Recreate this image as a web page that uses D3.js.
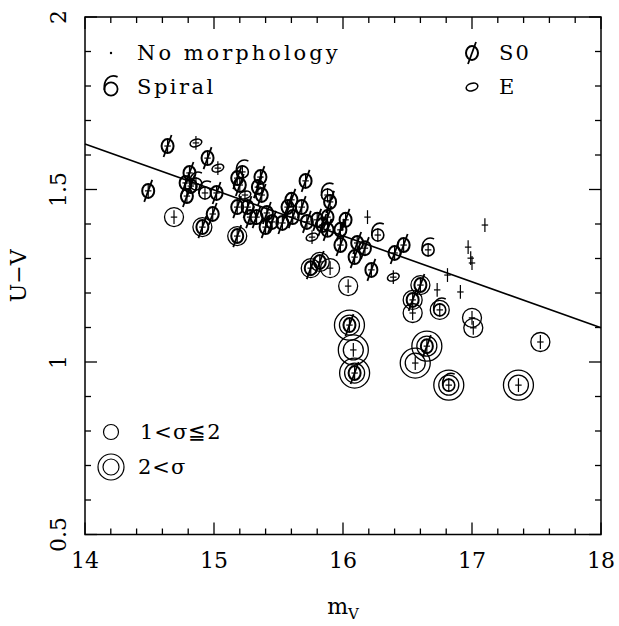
<!DOCTYPE html>
<html><head><meta charset="utf-8">
<script src="https://cdn.jsdelivr.net/npm/d3@7"></script>
<style>body{margin:0;background:#fff}svg{display:block}</style>
</head><body><svg id="c" width="619" height="626"></svg>
<script>
// ---- data ----
const mV = [14.49,14.64,14.86,14.95,15.03,14.81,14.78,14.82,14.86,14.79,14.93,15.02,14.69,14.99,14.91,
  15.18,15.22,15.36,15.24,15.18,15.28,15.18,15.34,15.37,15.33,15.41,15.45,15.40,15.53,15.61,15.71,15.60,15.68,15.57,
  15.88,15.90,15.76,15.72,15.80,15.84,15.88,15.88,15.98,16.02,15.98,16.19,16.27,16.11,16.17,16.09,16.47,16.40,16.66,
  16.39,16.22,15.75,15.82,15.90,16.04,16.60,16.81,16.73,16.91,17.00,17.10,16.97,16.99,16.54,16.54,16.75,17.00,17.01,
  17.53,16.05,16.08,16.09,16.65,16.56,16.82,17.36,15.20,15.26];
const UV = [1.496,1.626,1.635,1.591,1.562,1.548,1.519,1.510,1.516,1.481,1.490,1.490,1.420,1.429,1.391,
  1.533,1.551,1.536,1.484,1.449,1.420,1.365,1.507,1.484,1.420,1.432,1.406,1.391,1.403,1.420,1.525,1.470,1.449,1.449,
  1.484,1.464,1.362,1.406,1.412,1.397,1.420,1.383,1.383,1.412,1.339,1.420,1.368,1.345,1.330,1.304,1.339,1.316,1.325,
  1.246,1.267,1.272,1.290,1.272,1.220,1.223,1.252,1.209,1.203,1.287,1.397,1.333,1.301,1.180,1.142,1.151,1.128,1.099,
  1.058,1.107,1.035,0.968,1.046,0.997,0.933,0.933,1.513,1.449];
const morph = ["S0","S0","E","S0","E","S0","S0","S0","Sp","S0","Sp","S0","N","S0","S0",
  "S0","Sp","S0","E","S0","S0","S0","S0","S0","S0","S0","S0","S0","S0","S0","S0","S0","S0","S0",
  "Sp","S0","E","S0","S0","S0","S0","S0","S0","S0","S0","N","Sp","S0","S0","S0","S0","S0","Sp",
  "E","S0","S0","S0","N","N","S0","N","N","N","N","N","N","N","S0","N","Sp","N","N",
  "N","S0","N","S0","S0","N","Sp","N","S0","S0"];
const sigma = [0,0,0,0,0,0,0,0,0,0,0,0,1,0,1,
  0,0,0,0,0,0,1,0,0,0,0,0,0,0,0,0,0,0,0,
  0,0,0,0,0,0,0,0,0,0,0,0,0,0,0,0,0,0,0,
  0,0,1,1,1,1,1,0,0,0,0,0,0,0,1,1,1,1,1,
  1,2,2,2,2,2,2,2,0,0];
const mErr = 0.025, uvErr = 0.02;
const fitLine = [[14, 1.632], [18, 1.099]];
const xTicks = [14,15,16,17,18];
const yTicks = [0.5,1,1.5,2];

// ---- layout ----
const L = 85, R = 601, T = 17, B = 534.5;
const x = d3.scaleLinear().domain([14,18]).range([L,R]);
const y = d3.scaleLinear().domain([0.5,2]).range([B,T]);
const svg = d3.select("#c");
const FONT = "DejaVu Serif";

// frame
svg.append("rect").attr("x",L).attr("y",T).attr("width",R-L).attr("height",B-T)
  .attr("fill","none").attr("stroke","#000").attr("stroke-width",1.5);

// ticks on all sides
const g = svg.append("g").attr("stroke","#000").attr("stroke-width",1.3);
d3.range(14,18.001,0.2).forEach(v=>{
  const major = Math.abs(v-Math.round(v))<1e-6; const len = major?12:6;
  g.append("line").attr("x1",x(v)).attr("x2",x(v)).attr("y1",B).attr("y2",B-len);
  g.append("line").attr("x1",x(v)).attr("x2",x(v)).attr("y1",T).attr("y2",T+len);
});
d3.range(0.5,2.0001,0.1).forEach(v=>{
  const major = Math.abs(v*2-Math.round(v*2))<1e-6; const len = major?12:6;
  g.append("line").attr("x1",L).attr("x2",L+len).attr("y1",y(v)).attr("y2",y(v));
  g.append("line").attr("x1",R).attr("x2",R-len).attr("y1",y(v)).attr("y2",y(v));
});

// tick labels
svg.selectAll(".xl").data(xTicks).join("text").attr("class","xl")
  .attr("x",d=>x(d)).attr("y",568).attr("text-anchor","middle")
  .attr("font-family",FONT).attr("font-size",22).text(d=>d);
svg.selectAll(".yl").data(yTicks).join("text").attr("class","yl")
  .attr("transform",d=>`translate(66,${y(d)}) rotate(-90)`).attr("text-anchor","middle")
  .attr("font-family",FONT).attr("font-size",22).text(d=>d);

// axis titles
svg.append("text").attr("transform",`translate(26,${(T+B)/2}) rotate(-90)`).attr("text-anchor","middle")
  .attr("font-family",FONT).attr("font-size",22).text("U−V");
const xt = svg.append("text").attr("x",(L+R)/2).attr("y",614).attr("text-anchor","middle")
  .attr("font-family",FONT).attr("font-size",22);
xt.append("tspan").text("m");
xt.append("tspan").attr("font-size",15).attr("dy",5).text("V");

// fit line
svg.append("path").attr("d",d3.line().x(d=>x(d[0])).y(d=>y(d[1]))(fitLine))
  .attr("stroke","#000").attr("stroke-width",1.6).attr("fill","none");

// symbol helpers
function drawS0(sel){
  sel.append("ellipse").attr("rx",6).attr("ry",7).attr("fill","none").attr("stroke","#000").attr("stroke-width",2);
  sel.append("line").attr("x1",-4).attr("y1",11).attr("x2",4).attr("y2",-11).attr("stroke","#000").attr("stroke-width",1.8);
}
function drawE(sel){
  sel.append("ellipse").attr("rx",6).attr("ry",3.6).attr("transform","rotate(-18)").attr("fill","none").attr("stroke","#000").attr("stroke-width",1.6);
}
function drawSp(sel){
  sel.append("circle").attr("r",6).attr("fill","none").attr("stroke","#000").attr("stroke-width",1.6);
  sel.append("path").attr("d","M -6,1 C -7,-9 -1,-14 6,-11").attr("fill","none").attr("stroke","#000").attr("stroke-width",1.6);
}

const pts = mV.map((m,i)=>({m, uv:UV[i], t:morph[i], s:sigma[i]}));
const pg = svg.append("g");
pts.forEach(p=>{
  const gp = pg.append("g").attr("transform",`translate(${x(p.m)},${y(p.uv)})`);
  if(p.s>=1) gp.append("circle").attr("r",p.s===2?10:9.5).attr("fill","none").attr("stroke","#000").attr("stroke-width",1.3);
  if(p.s===2) gp.append("circle").attr("r",15).attr("fill","none").attr("stroke","#000").attr("stroke-width",1.3);
  // error cross
  gp.append("line").attr("x1",0).attr("x2",0).attr("y1",y(p.uv-uvErr)-y(p.uv)).attr("y2",y(p.uv+uvErr)-y(p.uv)).attr("stroke","#000").attr("stroke-width",1.2);
  gp.append("line").attr("y1",0).attr("y2",0).attr("x1",x(p.m-mErr)-x(p.m)).attr("x2",x(p.m+mErr)-x(p.m)).attr("stroke","#000").attr("stroke-width",1.2);
  if(p.t==="S0") drawS0(gp); else if(p.t==="E") drawE(gp); else if(p.t==="Sp") drawSp(gp);
});

// legend
function legText(xp,yp,t){ return svg.append("text").attr("x",xp).attr("y",yp).attr("font-family",FONT).attr("font-size",21).attr("dominant-baseline","central").text(t); }
svg.append("circle").attr("cx",111).attr("cy",53).attr("r",1.2).attr("fill","#000");
legText(137,53,"No morphology").attr("letter-spacing",3);
drawSp(svg.append("g").attr("transform","translate(111,89) scale(1.1)"));
legText(137,87,"Spiral").attr("letter-spacing",2.5);
drawS0(svg.append("g").attr("transform","translate(472,53)"));
legText(499,53,"S0").attr("letter-spacing",2);
drawE(svg.append("g").attr("transform","translate(472,87)"));
legText(499,87,"E");
svg.append("circle").attr("cx",111).attr("cy",432).attr("r",7.5).attr("fill","none").attr("stroke","#000").attr("stroke-width",1.2);
legText(140,432,"1<σ≦2").attr("letter-spacing",1);
svg.append("circle").attr("cx",111).attr("cy",467).attr("r",8).attr("fill","none").attr("stroke","#000").attr("stroke-width",1.2);
svg.append("circle").attr("cx",111).attr("cy",467).attr("r",13).attr("fill","none").attr("stroke","#000").attr("stroke-width",1.2);
legText(138,467,"2<σ").attr("letter-spacing",1);
</script></body></html>
